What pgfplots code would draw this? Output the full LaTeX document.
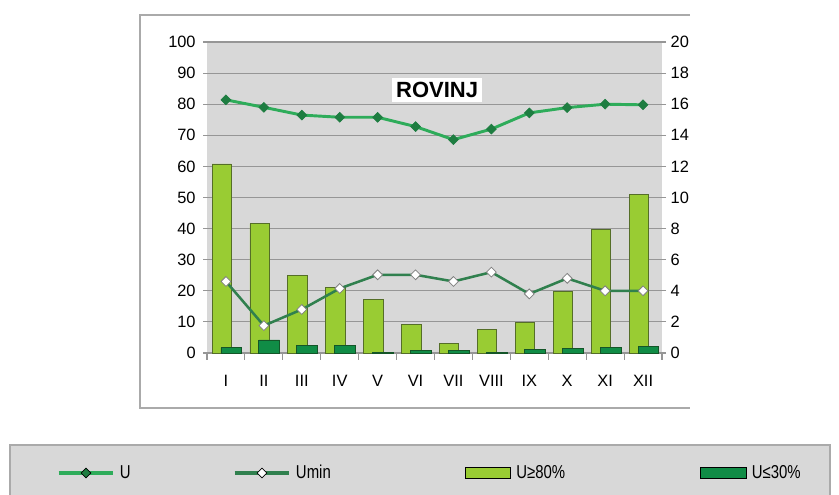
\documentclass[border=0pt]{standalone}
\usepackage{fontspec}
\setmainfont{Liberation Sans}
\newfontfamily\narrow[FakeStretch=0.8]{Liberation Sans}
\usepackage{pgfplots}
\pgfplotsset{compat=1.18}

\definecolor{plotBg}{RGB}{216,216,216}
\definecolor{gridGray}{RGB}{150,150,150}
\definecolor{frameGray}{RGB}{170,170,170}
\definecolor{lightBar}{RGB}{153,204,51}
\definecolor{lightEdge}{RGB}{85,110,40}
\definecolor{darkBar}{RGB}{16,140,70}
\definecolor{darkEdge}{RGB}{20,85,40}
\definecolor{uLine}{RGB}{46,172,90}
\definecolor{uMark}{RGB}{30,125,65}
\definecolor{uminLine}{RGB}{48,128,78}

\pgfplotsset{
    rov base/.style={
        at={(155.25pt,-264.75pt)}, anchor=south west,
        scale only axis, width=341.25pt, height=233.25pt,
        xmin=0.5, xmax=12.5,
        tick align=outside, major tick length=3pt,
        ytick style={draw=gridGray, line width=0.8pt},
        tick label style={font=\fontsize{12.3}{14}\selectfont},
        /pgf/number format/assume math mode=true,
    },
    leg line/.style={legend image code/.code={
        \draw[mark repeat=2, mark phase=2, ##1] plot coordinates {(0pt,0pt) (20.5pt,0pt) (41pt,0pt)};}},
    leg box/.style={legend image code/.code={
        \draw[##1] (0pt,-4pt) rectangle (34pt,4pt);}},
}

\begin{document}
\begin{tikzpicture}
\begin{scope}[x=0.75pt,y=-0.75pt]
\path[use as bounding box] (0,0) rectangle (839,495);
\draw[frameGray, line width=1.5pt] (690,15) -- (140,15) -- (140,408) -- (690,408);
\filldraw[fill=plotBg, draw=frameGray, line width=1pt] (10,445) rectangle (830,502);
\end{scope}

% left axis: bars and U
\begin{axis}[
    rov base,
    ymin=0, ymax=100,
    ytick={0,10,...,100},
    yticklabel style={xshift=-2pt},
    axis background/.style={fill=plotBg},
    ymajorgrids, grid style={gridGray, line width=0.8pt},
    axis x line*=bottom, axis y line*=left,
    y axis line style={draw=none},
    x axis line style={draw=gridGray, line width=0.8pt},
    xtick={1,...,12},
    xticklabels={I,II,III,IV,V,VI,VII,VIII,IX,X,XI,XII},
    xtick style={draw=none},
    xticklabel style={yshift=-10pt},
    extra x ticks={0.5,1.5,...,12.5},
    extra x tick labels={},
    extra x tick style={xtick style={draw=gridGray, line width=0.8pt}, major tick length=5pt},
    legend columns=4,
    legend cell align=left,
    legend style={at={(axis description cs:-0.3297,-0.3859)}, anchor=west,
        draw=none, fill=none, inner sep=0pt, outer sep=0pt,
        nodes={inner sep=0pt},
        font=\narrow\fontsize{14}{16}\selectfont},
]
\addplot[ybar, bar width=0.51, bar shift=-0.113, fill=lightBar, draw=lightEdge, line width=0.6pt, forget plot]
    coordinates {(1,60.8) (2,41.6) (3,24.8) (4,21.1) (5,17.3) (6,9.1) (7,3.2) (8,7.5) (9,9.9) (10,19.8) (11,39.8) (12,51.1)};
\addplot[ybar, bar width=0.55, bar shift=0.142, fill=darkBar, draw=darkEdge, line width=0.6pt, forget plot]
    coordinates {(1,1.7) (2,4.2) (3,2.5) (4,2.5) (5,0.3) (6,0.75) (7,0.75) (8,0.2) (9,1.0) (10,1.6) (11,1.9) (12,2.15)};
\addplot[uLine, line width=2.2pt, mark=square*, mark size=2.6pt,
    mark options={rotate=45, fill=uMark, draw=uMark, line width=0.5pt}, forget plot]
    coordinates {(1,81.4) (2,79.0) (3,76.5) (4,75.8) (5,75.8) (6,72.8) (7,68.6) (8,72.0) (9,77.2) (10,78.9) (11,80.0) (12,79.8)};
\node[fill=white, inner sep=3pt, font=\bfseries\fontsize{16.5}{18}\selectfont] at (axis cs:6.57,84.6) {ROVINJ};

\addlegendimage{leg line, uLine, line width=2.5pt, mark=square*, mark size=2.6pt,
    mark options={rotate=45, fill=uMark, draw=black, line width=0.5pt}}
\addlegendentry{\makebox[88.5pt][l]{\hspace{3.75pt}U}}
\addlegendimage{leg line, uminLine, line width=2.5pt, mark=square*, mark size=2.6pt,
    mark options={rotate=45, fill=white, draw=black, line width=0.5pt}}
\addlegendentry{\makebox[130.5pt][l]{\hspace{3.75pt}Umin}}
\addlegendimage{leg box, fill=lightBar, draw=black, line width=0.8pt}
\addlegendentry{\makebox[141.75pt][l]{\hspace{3.75pt}U≥80\%}}
\addlegendimage{leg box, fill=darkBar, draw=black, line width=0.8pt}
\addlegendentry{\makebox[55pt][l]{\hspace{3.75pt}U≤30\%}}
\end{axis}

% right axis: Umin
\begin{axis}[
    rov base,
    ymin=0, ymax=20,
    ytick={0,2,...,20},
    axis x line=none, axis y line*=right,
    y axis line style={draw=none},
]
\addplot[uminLine, line width=1.9pt, mark=square*, mark size=2.6pt,
    mark options={rotate=45, fill=white, draw=gray, line width=0.6pt}]
    coordinates {(1,4.6) (2,1.76) (3,2.8) (4,4.15) (5,5.03) (6,5.03) (7,4.6) (8,5.2) (9,3.8) (10,4.8) (11,4.0) (12,4.0)};
\end{axis}
\end{tikzpicture}
\end{document}
